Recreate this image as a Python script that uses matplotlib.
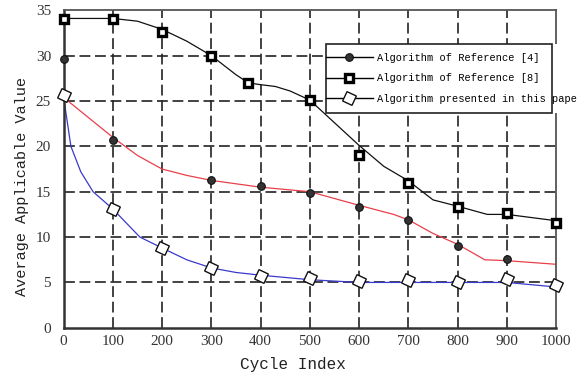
import matplotlib
matplotlib.use('Agg')
from matplotlib import pyplot as plt
from matplotlib.lines import Line2D
from matplotlib.patches import Rectangle

# markers
ref4_x = [0, 100, 300, 400, 500, 600, 700, 800, 900]
ref4_y = [29.6, 20.7, 16.3, 15.6, 14.9, 13.35, 11.9, 9.0, 7.6]
ref8_x = [0, 100, 200, 300, 375, 500, 600, 700, 800, 900, 1000]
ref8_y = [34.05, 34.05, 32.6, 30.0, 27.0, 25.1, 19.05, 16.0, 13.35, 12.6, 11.6]
ours_x = [0, 100, 200, 300, 400, 500, 600, 700, 800, 900, 1000]
ours_y = [25.7, 13.1, 8.75, 6.55, 5.7, 5.45, 5.2, 5.25, 5.1, 5.35, 4.7]

# the curves drawn through them (not exactly through the markers)
red_x = [0, 50, 100, 150, 200, 250, 300, 400, 500, 600, 670, 700, 750, 800, 855, 900, 1000]
red_y = [25.4, 23.2, 21.0, 19.0, 17.5, 16.8, 16.25, 15.5, 15.0, 13.5, 12.5, 11.9, 10.4, 9.2, 7.5, 7.4, 7.0]
black_x = [0, 100, 150, 200, 250, 300, 350, 375, 400, 430, 460, 500, 550, 600, 650, 700, 750, 800, 860, 900, 1000]
black_y = [34.1, 34.1, 33.8, 32.9, 31.6, 30.0, 27.9, 27.0, 26.8, 26.6, 26.1, 25.1, 22.6, 20.1, 17.8, 16.2, 14.1, 13.4, 12.5, 12.5, 11.8]
blue_x = [0, 15, 35, 60, 100, 155, 200, 250, 300, 350, 400, 500, 600, 700, 800, 900, 1000]
blue_y = [25.5, 20.0, 17.2, 15.0, 13.1, 10.0, 8.8, 7.5, 6.6, 6.1, 5.8, 5.3, 5.0, 5.0, 5.0, 5.0, 4.5]

labels = ['Algorithm of Reference [4]', 'Algorithm of Reference [8]',
          'Algorithm presented in this paper']
xticks = list(range(0, 1001, 100))
yticks = list(range(0, 36, 5))

tick_font = 'Liberation Serif'
label_font = 'Liberation Mono'

fig = plt.figure(figsize=(5.78, 3.78), dpi=100)
ax = fig.add_axes([0.1099, 0.1328, 0.8524, 0.8400])

# dashed grid, no line on the borders
for xv in xticks[1:-1]:
    ax.axvline(xv, color='#222222', lw=1.2, dashes=(6.5, 2.8), zorder=1)
for yv in yticks[1:-1]:
    ax.axhline(yv, color='#222222', lw=1.2, dashes=(6.5, 2.8), zorder=1)

ax.plot(red_x, red_y, color='#e8404a', lw=0.9, zorder=2)
ax.plot(black_x, black_y, color='#111111', lw=0.9, zorder=2)
ax.plot(blue_x, blue_y, color='#3a3acc', lw=0.9, zorder=2)

circle_style = dict(marker='o', markersize=5.5, markerfacecolor='#333333',
                    markeredgecolor='#111111', markeredgewidth=0.8)
square_style = dict(marker='s', markersize=5.5, markerfacecolor='white',
                    markeredgecolor='#000000', markeredgewidth=2.4)
diamond_style = dict(marker=(4, 0, 20), markersize=10.5, markerfacecolor='white',
                     markeredgecolor='#111111', markeredgewidth=1.0)

ax.plot(ref4_x, ref4_y, ls='none', zorder=3, clip_on=False, **circle_style)
ax.plot(ref8_x, ref8_y, ls='none', zorder=3, clip_on=False, **square_style)
ax.plot(ours_x, ours_y, ls='none', zorder=3, clip_on=False, **diamond_style)

ax.set_xlim(0, 1000)
ax.set_ylim(0, 35)
ax.set_xticks(xticks)
ax.set_yticks(yticks)
ax.tick_params(length=0, labelsize=11, colors='#333333')
ax.tick_params(axis='x', pad=5)
ax.tick_params(axis='y', pad=9)
for lab in ax.get_xticklabels() + ax.get_yticklabels():
    lab.set_fontfamily(tick_font)

for side in ['left', 'bottom']:
    ax.spines[side].set_color('#333333')
    ax.spines[side].set_linewidth(1.8)
for side in ['top', 'right']:
    ax.spines[side].set_color('#555555')
    ax.spines[side].set_linewidth(1.3)

ax.set_xlabel('Cycle Index', fontfamily=label_font, fontsize=11.5, color='#222222')
ax.set_ylabel('Average Applicable Value', fontfamily=label_font, fontsize=11,
              color='#222222')
ax.xaxis.set_label_coords(0.466, -0.093)
ax.yaxis.set_label_coords(-0.07, 0.445)

# legend: white background runs off the figure edge, frame is narrower
fig.patches.append(Rectangle((326 / 578, 1 - 113 / 378), 1.0, 69 / 378,
                             transform=fig.transFigure, facecolor='white',
                             edgecolor='none', zorder=3))
fig.patches.append(Rectangle((326 / 578, 1 - 113 / 378), 226 / 578, 69 / 378,
                             transform=fig.transFigure, facecolor='none',
                             edgecolor='#222222', lw=1.2, zorder=4))
handles = [Line2D([], [], color='black', lw=1.0, **circle_style),
           Line2D([], [], color='black', lw=1.0, **square_style),
           Line2D([], [], color='black', lw=1.0, **diamond_style)]
fig.legend(handles, labels, loc='upper left', bbox_to_anchor=(326 / 578, 1 - 53 / 378),
           frameon=False, prop={'family': label_font, 'size': 7.5},
           handlelength=4.5, handletextpad=0.35, labelspacing=1.0,
           borderpad=0, borderaxespad=0)

fig.savefig('out.png', dpi=100)
